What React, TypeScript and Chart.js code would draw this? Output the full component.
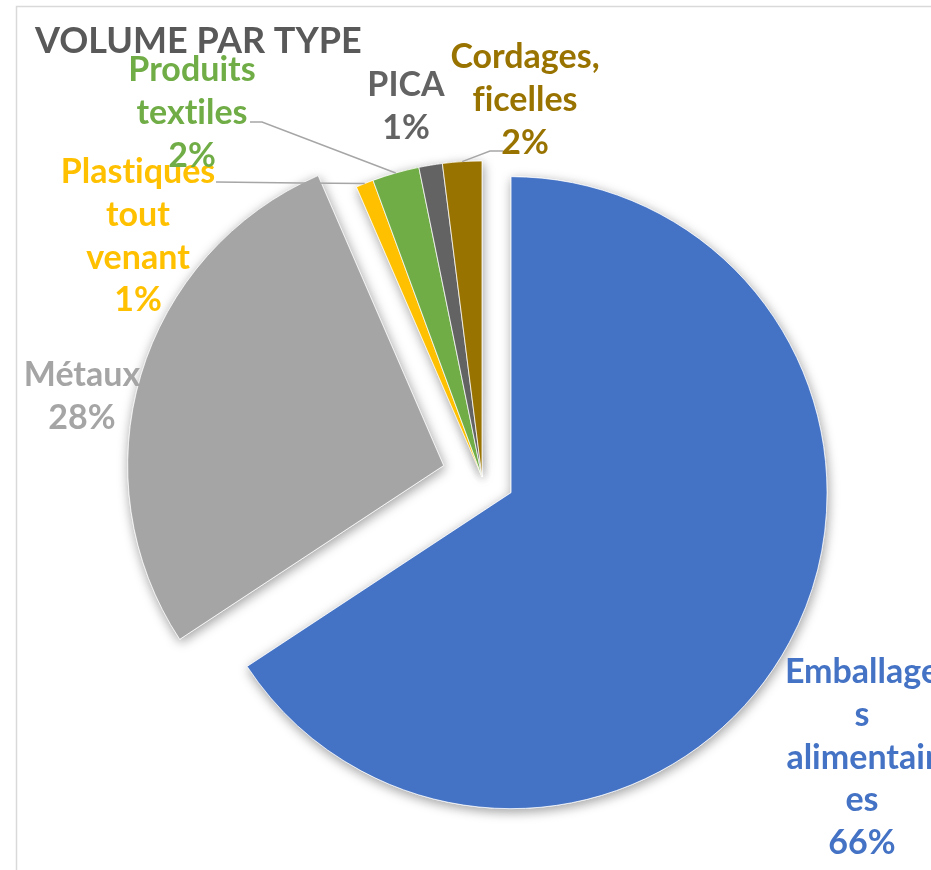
import React, { useEffect, useRef } from 'react';
import { Chart, registerables } from 'chart.js';

Chart.register(...registerables);

// ---- Data ----
const title = 'VOLUME PAR TYPE';
const categories = [
  'Emballages alimentaires',
  'Métaux',
  'Plastiques tout venant',
  'Produits textiles',
  'PICA',
  'Cordages, ficelles',
];
const values = [65.7, 27.75, 0.9, 2.4, 1.2, 2.0];
const labelLines = [
  ['Emballage', 's', 'alimentair', 'es'],
  ['Métaux'],
  ['Plastiques', 'tout', 'venant'],
  ['Produits', 'textiles'],
  ['PICA'],
  ['Cordages,', 'ficelles'],
];
const colors = ['#4472C4', '#A5A5A5', '#FFC000', '#70AD47', '#636363', '#997300'];
const explode = [33, 40, 0, 0, 0, 0];

// ---- Layout (label anchors & leader lines) ----
const FONT = '"Lato", "Open Sans", sans-serif';
const LABEL_SIZE = 34;
const LINE_H = 42.8;
const labelPos = [
  { x: 862, y: 672 },
  { x: 82, y: 375 },
  { x: 138, y: 172 },
  { x: 192, y: 70 },
  { x: 406, y: 85 },
  { x: 525, y: 57 },
];
const leaders: Record<number, { start: [number, number]; elbow: [number, number] }> = {
  2: { start: [216, 182], elbow: [300, 183] },
  3: { start: [250, 122], elbow: [262, 122] },
  5: { start: [503, 151], elbow: [490, 151] },
};

const pieDecor = {
  id: 'pieDecor',
  beforeDraw(chart: any) {
    const ctx = chart.ctx;
    ctx.save();
    ctx.strokeStyle = '#D9D9D9';
    ctx.lineWidth = 1.5;
    ctx.strokeRect(16.5, 6.5, 2000, 2000);
    ctx.restore();
  },
  afterDatasetUpdate(chart: any) {
    const meta = chart.getDatasetMeta(0);
    meta.data.forEach((el: any, i: number) => {
      const mid = (el.startAngle + el.endAngle) / 2;
      el.x += Math.cos(mid) * explode[i];
      el.y += Math.sin(mid) * explode[i];
    });
  },
  beforeDatasetsDraw(chart: any) {
    const ctx = chart.ctx;
    const meta = chart.getDatasetMeta(0);
    meta.data.forEach((el: any) => {
      ctx.save();
      ctx.shadowColor = 'rgba(0,0,0,0.38)';
      ctx.shadowBlur = 12;
      ctx.shadowOffsetX = 1;
      ctx.shadowOffsetY = 3;
      el.draw(ctx);
      ctx.restore();
    });
  },
  afterDatasetsDraw(chart: any) {
    const ctx = chart.ctx;
    const meta = chart.getDatasetMeta(0);
    const total = values.reduce((a, b) => a + b, 0);

    // title
    ctx.save();
    ctx.fillStyle = '#595959';
    ctx.font = `bold 36px ${FONT}`;
    ctx.textAlign = 'left';
    ctx.textBaseline = 'alphabetic';
    ctx.fillText(title, 35, 53);
    ctx.restore();

    // leader lines
    ctx.save();
    ctx.strokeStyle = '#A6A6A6';
    ctx.lineWidth = 1.5;
    Object.keys(leaders).forEach((k) => {
      const i = Number(k);
      const el = meta.data[i];
      const mid = (el.startAngle + el.endAngle) / 2;
      const ex = el.x + Math.cos(mid) * el.outerRadius;
      const ey = el.y + Math.sin(mid) * el.outerRadius;
      const L = leaders[i];
      ctx.beginPath();
      ctx.moveTo(L.start[0], L.start[1]);
      ctx.lineTo(L.elbow[0], L.elbow[1]);
      ctx.lineTo(ex, ey);
      ctx.stroke();
    });
    ctx.restore();

    // labels
    ctx.save();
    ctx.font = `bold ${LABEL_SIZE}px ${FONT}`;
    (ctx as any).letterSpacing = '0.01px';
    ctx.textAlign = 'center';
    ctx.textBaseline = 'middle';
    categories.forEach((_, i) => {
      const lines = [...labelLines[i], Math.round((values[i] / total) * 100) + '%'];
      ctx.fillStyle = colors[i];
      lines.forEach((t, j) => {
        ctx.fillText(t, labelPos[i].x, labelPos[i].y + j * LINE_H);
      });
    });
    ctx.restore();
  },
};

export default function App() {
  const ref = useRef<HTMLCanvasElement | null>(null);
  useEffect(() => {
    if (!ref.current) return;
    const chart = new Chart(ref.current, {
      type: 'pie',
      data: {
        labels: categories,
        datasets: [
          {
            data: values,
            backgroundColor: colors,
            borderColor: '#FFFFFF',
            borderWidth: 0.75,
          },
        ],
      },
      options: {
        responsive: false,
        animation: false,
        radius: 316,
        layout: { padding: { left: 33, right: 0, top: 84, bottom: 0 } },
        plugins: {
          legend: { display: false },
          title: { display: false },
          tooltip: { enabled: false },
        },
        events: [],
      } as any,
      plugins: [pieDecor],
    });
    return () => chart.destroy();
  }, []);
  return (
    <div style={{ position: 'absolute', left: 0, top: 0, width: 931, height: 870, background: '#fff', overflow: 'hidden' }}>
      <canvas ref={ref} width={931} height={870} style={{ display: 'block' }} />
    </div>
  );
}
